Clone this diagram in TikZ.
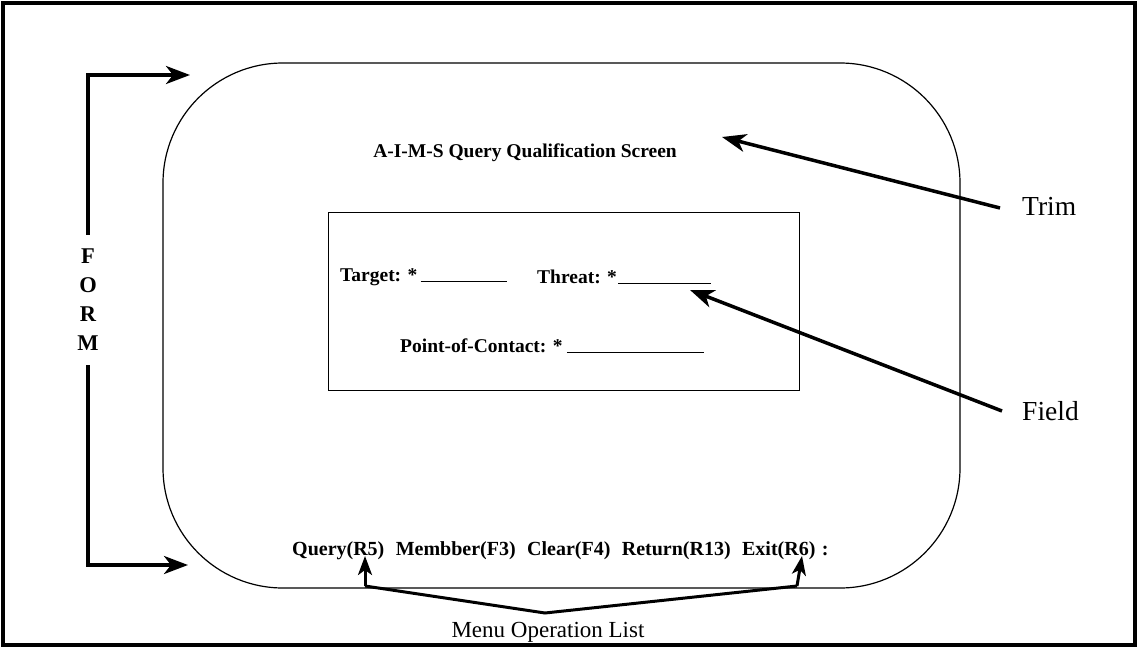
\documentclass[tikz,border=0pt]{standalone}
\usepackage{fontspec}
\setmainfont{Liberation Serif}
\usetikzlibrary{arrows.meta}
\begin{document}
\begin{tikzpicture}[x=1pt,y=-1pt,
  screen/.style={font=\fontsize{19.5}{22}\selectfont\bfseries, inner sep=0pt},
  callout/.style={font=\fontsize{27.5}{31}\selectfont, inner sep=0pt},
  ptr/.style={line width=3.5pt, -{Stealth[length=24pt,width=18pt,inset=7pt]}},
  menuptr/.style={line width=3pt, -{Stealth[length=19pt,width=14pt,inset=5pt]}},
  uline/.style={line width=1pt},
]
% page and outer frame
\fill[white] (0,0) rectangle (1138,648);
\draw[line width=3.2pt] (3,3) rectangle (1135,645);

% the form outline and the field area
\node[draw, line width=1.2pt, rounded corners=120pt, minimum width=797pt,
      minimum height=525pt, inner sep=0pt] (formbox) at (561.5,325.5) {};
\node[draw, line width=1pt, minimum width=471pt, minimum height=178pt,
      inner sep=0pt] (fieldbox) at (563.5,301) {};

% screen texts
\node[screen, anchor=base] (title) at (525,157) {A-I-M-S Query Qualification Screen};
\node[screen, anchor=base west] (target) at (340,281) {Target: *};
\node[screen, anchor=base west] (threat) at (537,283) {Threat: *};
\node[screen, anchor=base west] (poc) at (400,352) {Point-of-Contact: *};
\draw[uline] ([xshift=3pt]target.base east) -- ++(86,0);
\draw[uline] ([xshift=1pt]threat.base east) -- ++(93,0);
\draw[uline] ([xshift=4pt]poc.base east) -- ++(137,0);

% menu line
\node[screen, font=\fontsize{20}{22}\selectfont\bfseries, anchor=base west] (mq) at (292,555) {Query(R5)};
\node[screen, font=\fontsize{20}{22}\selectfont\bfseries, anchor=base west] (mm) at ([xshift=11pt]mq.base east) {Membber(F3)};
\node[screen, font=\fontsize{20}{22}\selectfont\bfseries, anchor=base west] (mc) at ([xshift=11pt]mm.base east) {Clear(F4)};
\node[screen, font=\fontsize{20}{22}\selectfont\bfseries, anchor=base west] (mr) at ([xshift=11pt]mc.base east) {Return(R13)};
\node[screen, font=\fontsize{20}{22}\selectfont\bfseries, anchor=base west] (me) at ([xshift=11pt]mr.base east) {Exit(R6)};
\node[screen, font=\fontsize{20}{22}\selectfont\bfseries, anchor=base west] (mcolon) at ([xshift=6pt]me.base east) {:};

% FORM bracket
\node[font=\fontsize{22.5}{29}\selectfont\bfseries, align=center, inner sep=0pt]
  (form) at (88,300) {F\\O\\R\\M};
\coordinate (formtop) at (88,75);
\coordinate (formtopend) at (190,75);
\coordinate (formbot) at (88,565);
\coordinate (formbotend) at (188,565);
\draw[ptr] ([yshift=14pt]form.north) -- (formtop) -- (formtopend);
\draw[ptr] ([yshift=-14pt]form.south) -- (formbot) -- (formbotend);

% callouts on the right
\node[callout, anchor=west] (trim) at (1022,206) {Trim};
\node[callout, anchor=west] (field) at (1022,411) {Field};
\coordinate (trimtip) at (722,137);
\coordinate (fieldtip) at (690,290);
\draw[ptr] ([xshift=-22pt,yshift=-2pt]trim.west) -- (trimtip);
\draw[ptr] ([xshift=-20pt]field.west) -- (fieldtip);

% menu operation list callout
\node[font=\fontsize{23}{27}\selectfont, anchor=base, inner sep=0pt] (mol) at (548,637) {Menu Operation List};
\coordinate (vmid) at (545,613);
\coordinate (qfoot) at (365,586);
\coordinate (qtip) at (365,556);
\coordinate (efoot) at (797,586);
\coordinate (etip) at (802,556);
\draw[line width=3pt, line join=miter] (qfoot) -- (vmid) -- (efoot);
\draw[menuptr] (qfoot) -- (qtip);
\draw[menuptr] (efoot) -- (etip);
\end{tikzpicture}
\end{document}
